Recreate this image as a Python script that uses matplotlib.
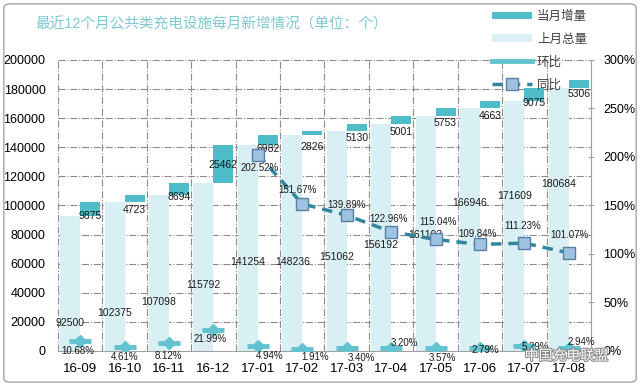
"""
Public charging facilities: monthly increase over the last 12 months.
Floating bars for the increase on top of last month's total,
plus month-on-month and year-on-year ratios on a second axis.
"""

import numpy as np
import matplotlib.pyplot as plt
from matplotlib.patches import Patch, FancyBboxPatch
from matplotlib.lines import Line2D
import matplotlib.patheffects as pe

plt.rcParams['font.family'] = ['Liberation Sans', 'Noto Sans CJK SC']

# ============================================================
# Data
# ============================================================

months = ["16-09", "16-10", "16-11", "16-12", "17-01", "17-02",
          "17-03", "17-04", "17-05", "17-06", "17-07", "17-08"]

last_total = [92500, 102375, 107098, 115792, 141254, 148236,
              151062, 156192, 161193, 166946, 171609, 180684]

increase = [9875, 4723, 8694, 25462, 6982, 2826,
            5130, 5001, 5753, 4663, 9075, 5306]

mom = [10.68, 4.61, 8.12, 21.99, 4.94, 1.91,
       3.40, 3.20, 3.57, 2.79, 5.29, 2.94]

yoy = [np.nan, np.nan, np.nan, np.nan, 202.52, 151.67,
       139.89, 122.96, 115.04, 109.84, 111.23, 101.07]

# label placement (hand placed in the original)
total_label_y = [19500, 26000, 33700, 45400, 61200, 61000,
                 64600, 72900, 79700, 101500, 106500, 114800]
inc_label_dy = [0, -8, -2, 18, -4, -12, -7, -8, -7, -8, -2, -6]
mom_label_off = [(-2, -10), (0, -10), (-1, -13), (-3, -9), (12, -10), (13, -8),
                 (15, -10), (13, 5), (7, -10), (5, -2), (11, -1), (13, 6)]
yoy_label_off = [None, None, None, None, (2, -13), (-5, 14),
                 (0, 10), (-3, 13), (3, 17), (-2, 10), (-2, 17), (1, 18)]

# ============================================================
# Colours
# ============================================================

TEAL = "#4FBCC9"
LIGHT = "#D8EFF4"
MOM_C = "#62C2CF"
YOY_C = "#31859C"
GRID = "#8C8C8C"

# ============================================================
# Figure
# ============================================================

fig = plt.figure(figsize=(6.4, 3.86), dpi=100)
ax = fig.add_axes([0.0906, 0.0907, 0.8328, 0.7539])
ax2 = ax.twinx()

x = np.arange(len(months))
w = 0.45

ax.bar(x - w / 2, last_total, width=w, color=LIGHT, zorder=2)
ax.bar(x + w / 2, increase, width=w, bottom=last_total, color=TEAL, zorder=2)

ax.set_xlim(-0.5, len(months) - 0.5)
ax.set_ylim(0, 200000)
ax.set_yticks(np.arange(0, 200001, 20000))
ax.set_xticks(x)
ax.set_xticklabels(months, fontsize=9.5)
ax.tick_params(axis='x', length=0, pad=9)
ax.tick_params(axis='y', length=0, pad=9, labelsize=9)

# dash-dot grid
for yv in np.arange(20000, 200001, 20000):
    ax.axhline(yv, color=GRID, lw=0.8, ls='-.', zorder=1)
for xv in np.arange(-0.5, len(months) - 0.5, 1.0):
    ax.axvline(xv, color=GRID, lw=0.8, ls='-.', zorder=1)

for side in ['left', 'top', 'right']:
    ax.spines[side].set_visible(False)
ax.spines['bottom'].set_color('#A0A0A0')

# value labels
for i in range(len(months)):
    ax.text(x[i] - w / 2, total_label_y[i], str(last_total[i]),
            ha='center', va='center', fontsize=7.5, color='#1A1A1A', zorder=6)
    ax.annotate(str(increase[i]), (x[i] + w / 2, last_total[i]),
                xytext=(0, inc_label_dy[i]), textcoords='offset pixels',
                ha='center', va='center', fontsize=7.5, color='#1A1A1A', zorder=6)

# ============================================================
# Ratio lines (secondary axis)
# ============================================================

ax2.set_ylim(0, 300)
ax2.set_yticks(np.arange(0, 301, 50))
ax2.set_yticklabels([f"{v}%" for v in range(0, 301, 50)])
ax2.tick_params(axis='y', labelsize=9, length=4, direction='inout', pad=7,
                color='#A0A0A0')
for side in ['left', 'top', 'bottom']:
    ax2.spines[side].set_visible(False)
ax2.spines['right'].set_color('#A0A0A0')

# month-on-month: diamond blobs
ax2.plot(x, mom, ls='none', marker='_', ms=16, mew=3.5, color=MOM_C, zorder=4)
ax2.plot(x, mom, ls='none', marker='D', ms=6, color=MOM_C, zorder=4)

# year-on-year: dashed line with square markers
ax2.plot(x, yoy, ls=(0, (3, 2)), lw=2.5, color=YOY_C, marker='s', ms=9,
         mfc='#9DC3E0', mec='#5B7FA3', mew=1, zorder=5)

for i in range(len(months)):
    ax2.annotate(f"{mom[i]:.2f}%", (x[i], mom[i]), xytext=mom_label_off[i],
                 textcoords='offset pixels', ha='center', va='center',
                 fontsize=7, color='#1A1A1A', zorder=6)
    if yoy_label_off[i] is not None:
        ax2.annotate(f"{yoy[i]:.2f}%", (x[i], yoy[i]), xytext=yoy_label_off[i],
                     textcoords='offset pixels', ha='center', va='center',
                     fontsize=7, color='#1A1A1A', zorder=6)

# ============================================================
# Title, legend, frame, watermark
# ============================================================

fig.text(0.33, 0.937, "最近12个月公共类充电设施每月新增情况（单位：个）",
         ha='center', va='center', fontsize=10.5, color='#7CC9D4')

handles = [
    Patch(facecolor=TEAL, edgecolor='none'),
    Patch(facecolor=LIGHT, edgecolor='none'),
    Line2D([], [], color=MOM_C, lw=3.5),
    Line2D([], [], color=YOY_C, lw=2.5, ls=(0, (3, 2)), marker='s', ms=8,
           mfc='#9DC3E0', mec='#5B7FA3'),
]
labels = ["当月增量", "上月总量", "环比", "同比"]
leg = fig.legend(handles, labels, loc='upper left',
                 bbox_to_anchor=(0.755, 0.995), frameon=False, fontsize=9,
                 handlelength=3.2, handleheight=0.6, labelspacing=0.85,
                 handletextpad=0.4, borderpad=0.2)
for t in leg.get_texts():
    t.set_color('#404040')

fig.patches.append(FancyBboxPatch((0.006, 0.01), 0.988, 0.98,
                                  boxstyle="round,pad=0,rounding_size=0.01",
                                  transform=fig.transFigure, fill=False,
                                  edgecolor='#A6A6A6', lw=1))

fig.text(0.885, 0.078, "中国充电联盟", ha='center', va='center', fontsize=10,
         color='white', family=['Noto Sans CJK SC'],
         path_effects=[pe.withStroke(linewidth=1.5, foreground='#8A8A8A')])

fig.savefig("out.png", dpi=100)
